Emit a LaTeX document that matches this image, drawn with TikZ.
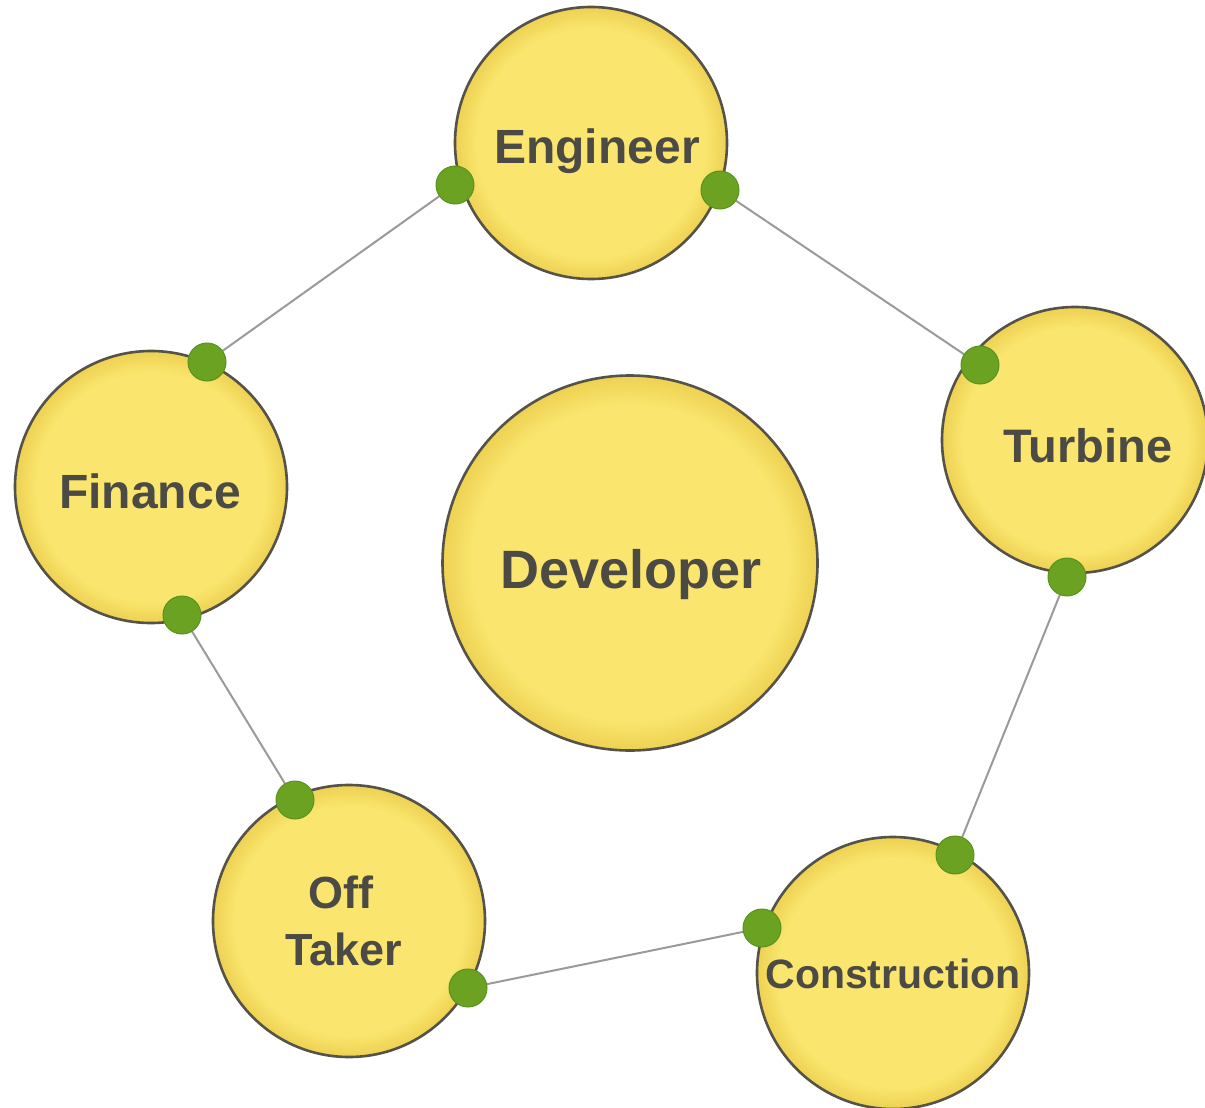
\documentclass[tikz,border=0pt]{standalone}
\usepackage{fontspec}
\setmainfont{Liberation Sans}
\usetikzlibrary{backgrounds}
\definecolor{ylwin}{HTML}{FAE66E}
\definecolor{ylwout}{HTML}{EDD152}
\definecolor{rimgray}{HTML}{55524A}
\definecolor{txtgray}{HTML}{4B4A44}
\definecolor{dotgreen}{HTML}{6BA222}
\definecolor{dotrim}{HTML}{5A921E}
\definecolor{linkgray}{HTML}{9A9A9A}
\pgfdeclareradialshading{rimshade}{\pgfpoint{0bp}{0bp}}{color(0bp)=(ylwin); color(21bp)=(ylwin); color(25bp)=(ylwout); color(50bp)=(ylwout)}
\begin{document}
\begin{tikzpicture}[x=1pt,y=-1pt,
  party/.style={circle,draw=rimgray,line width=2.6pt,inner sep=0pt,outer sep=0pt,
    minimum size=#1,shading=rimshade},
  party/.default=272pt,
  lbl/.style={anchor=base,text=txtgray,font=\bfseries\fontsize{#1}{#1}\selectfont,inner sep=0pt},
  lbl/.default=48pt,
  dot/.style={circle,fill=dotgreen,draw=dotrim,line width=1pt,minimum size=38pt,inner sep=0pt,outer sep=0pt},
  link/.style={draw=linkgray,line width=2pt}]
\useasboundingbox (0,0) rectangle (1205,1108);
% circles
\node[party] (eng) at (591,143) {};
\node[party=266pt] (tur) at (1075,440) {};
\node[party] (fin) at (151,487) {};
\node[party=375pt] (dev) at (630,563) {};
\node[party] (off) at (349,921) {};
\node[party] (con) at (893,973) {};
% labels
\node[lbl] (engT) at (597,163) {Engineer};
\node[lbl=47pt] (turT) at (1088,462) {Turbine};
\node[lbl] (finT) at (150,508) {Finance};
\node[lbl=54pt] (devT) at (631,588) {Developer};
\node[lbl=45pt] (offT1) at (341,908) {Off};
\node[lbl=45pt] (offT2) at (344,965) {Taker};
\node[lbl=41pt] (conT) at (893,988) {Construction};
% connector dots
\node[dot] (engL) at (455,185) {};
\node[dot] (engR) at (720,190) {};
\node[dot] (finTop) at (207,362) {};
\node[dot] (finBot) at (182,615) {};
\node[dot] (turTop) at (980,365) {};
\node[dot] (turBot) at (1067,577) {};
\node[dot] (offTop) at (295,800) {};
\node[dot] (offR) at (468,988) {};
\node[dot] (conTop) at (955,855) {};
\node[dot] (conL) at (762,928) {};
% connectors
\begin{pgfonlayer}{background}
\draw[link] (engL) -- (finTop);
\draw[link] (engR) -- (turTop);
\draw[link] (turBot) -- (conTop);
\draw[link] (conL) -- (offR);
\draw[link] (offTop) -- (finBot);
\end{pgfonlayer}
\end{tikzpicture}
\end{document}
